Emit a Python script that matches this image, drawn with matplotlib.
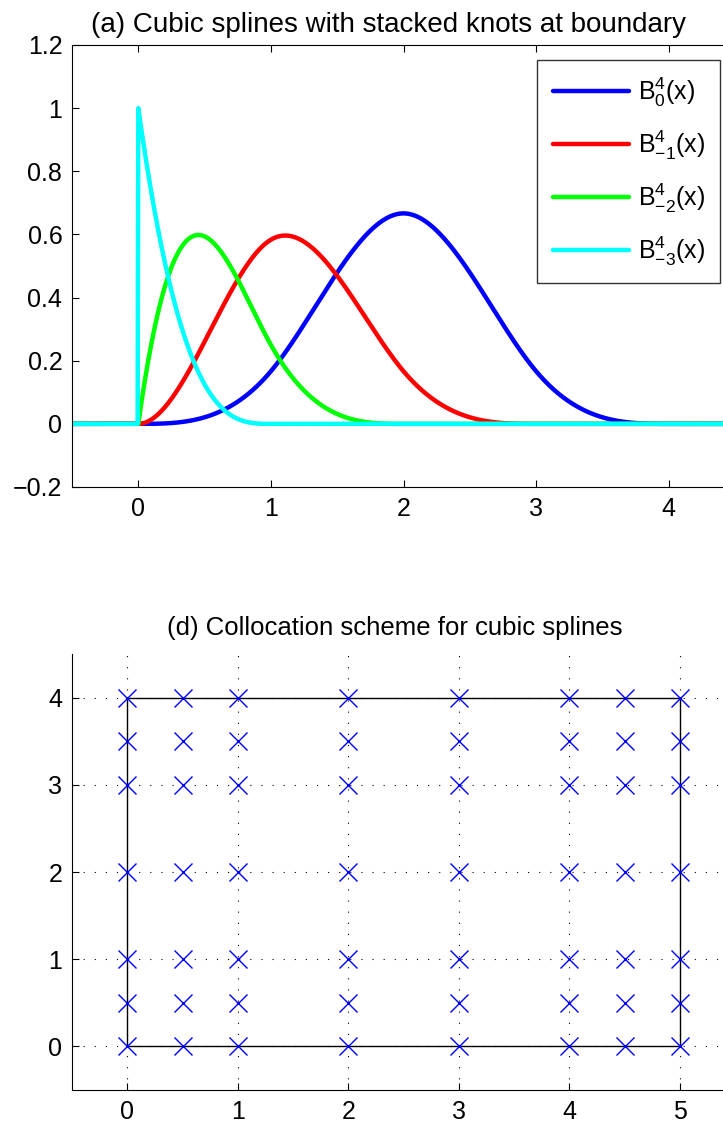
import matplotlib
matplotlib.use('Agg')
import matplotlib.pyplot as plt
import numpy as np

plt.rcParams['font.family'] = ['Liberation Sans', 'DejaVu Sans']
plt.rcParams['mathtext.fontset'] = 'custom'
plt.rcParams['mathtext.rm'] = 'Liberation Sans'
plt.rcParams['mathtext.it'] = 'Liberation Sans'
plt.rcParams['mathtext.default'] = 'regular'
plt.rcParams['axes.unicode_minus'] = True

# Panel (a): knot vectors of the cubic B-splines (stacked knots at 0)
spline_knots = [
    [0, 1, 2, 3, 4],
    [0, 0, 1, 2, 3],
    [0, 0, 0, 1, 2],
    [0, 0, 0, 0, 1],
]
spline_labels = [r'$B^4_0(x)$', r'$B^4_{-1}(x)$', r'$B^4_{-2}(x)$', r'$B^4_{-3}(x)$']
spline_colors = ['#0000ff', '#ff0000', '#00ff00', '#00ffff']

# Panel (d): collocation points
colloc_x = [0, 0.5, 1, 2, 3, 4, 4.5, 5]
colloc_y = [0, 0.5, 1, 2, 3, 3.5, 4]
domain_x = [0, 5, 5, 0, 0]
domain_y = [0, 0, 4, 4, 0]


def bspline(knots, x):
    # Cox-de Boor recursion for a single B-spline defined by its knots
    t = list(knots)
    k = len(t) - 1
    basis = [((x >= t[i]) & (x < t[i + 1])).astype(float) for i in range(k)]
    for p in range(1, k):
        new = []
        for i in range(k - p):
            b = np.zeros_like(x)
            if t[i + p] != t[i]:
                b += (x - t[i]) / (t[i + p] - t[i]) * basis[i]
            if t[i + p + 1] != t[i + 1]:
                b += (t[i + p + 1] - x) / (t[i + p + 1] - t[i + 1]) * basis[i + 1]
            new.append(b)
        basis = new
    return basis[0]


def matlab_ticks(ax):
    ax.tick_params(direction='in', length=5, width=0.8, labelsize=18,
                   top=True, right=True, pad=7)
    for s in ax.spines.values():
        s.set_linewidth(0.8)


def plot_splines(ax):
    x = np.linspace(-0.5, 4.5, 1001)
    for knots, label, color in zip(spline_knots, spline_labels, spline_colors):
        ax.plot(x, bspline(knots, x), color=color, lw=3.2, label=label,
                solid_capstyle='round', solid_joinstyle='round')
    ax.set_xlim(-0.5, 4.5)
    ax.set_ylim(-0.2, 1.2)
    ax.set_xticks([0, 1, 2, 3, 4])
    ax.set_yticks([-0.2, 0, 0.2, 0.4, 0.6, 0.8, 1, 1.2])
    ax.set_yticklabels(['\u22120.2', '0', '0.2', '0.4', '0.6', '0.8', '1', '1.2'])
    ax.set_title('(a) Cubic splines with stacked knots at boundary',
                 fontsize=20, pad=9, x=0.478)
    matlab_ticks(ax)
    leg = ax.legend(loc='upper right', bbox_to_anchor=(0.978, 0.966), fontsize=18,
                    frameon=True, fancybox=False, edgecolor='black',
                    handlelength=3.05, handletextpad=0.35, labelspacing=0.78,
                    borderpad=0.62, borderaxespad=0)
    leg.get_frame().set_linewidth(1.0)


def plot_collocation(ax):
    ax.set_xlim(-0.5, 5.5)
    ax.set_ylim(-0.5, 4.5)
    ax.set_xticks([0, 1, 2, 3, 4, 5])
    ax.set_yticks([0, 1, 2, 3, 4])
    ax.grid(True, linestyle=(0, (1, 9)), color='black', lw=0.8)
    ax.set_axisbelow(True)
    ax.plot(domain_x, domain_y, color='black', lw=1)
    gx, gy = np.meshgrid(colloc_x, colloc_y)
    ax.plot(gx.ravel(), gy.ravel(), 'x', color='#0000ff', ms=13, mew=1.0,
            linestyle='none')
    ax.set_title('(d) Collocation scheme for cubic splines', fontsize=18.5,
                 pad=14, x=0.487)
    matlab_ticks(ax)
    ax.tick_params(top=False, right=False)
    ax.spines['top'].set_visible(False)
    ax.spines['right'].set_visible(False)


fig = plt.figure(figsize=(7.23, 11.28), dpi=100)
ax1 = fig.add_axes([72 / 723, 1 - 487 / 1128, 663 / 723, 442 / 1128])
ax2 = fig.add_axes([72 / 723, 1 - 1090 / 1128, 663 / 723, 436 / 1128])
plot_splines(ax1)
plot_collocation(ax2)
fig.savefig('out.png', dpi=100)
